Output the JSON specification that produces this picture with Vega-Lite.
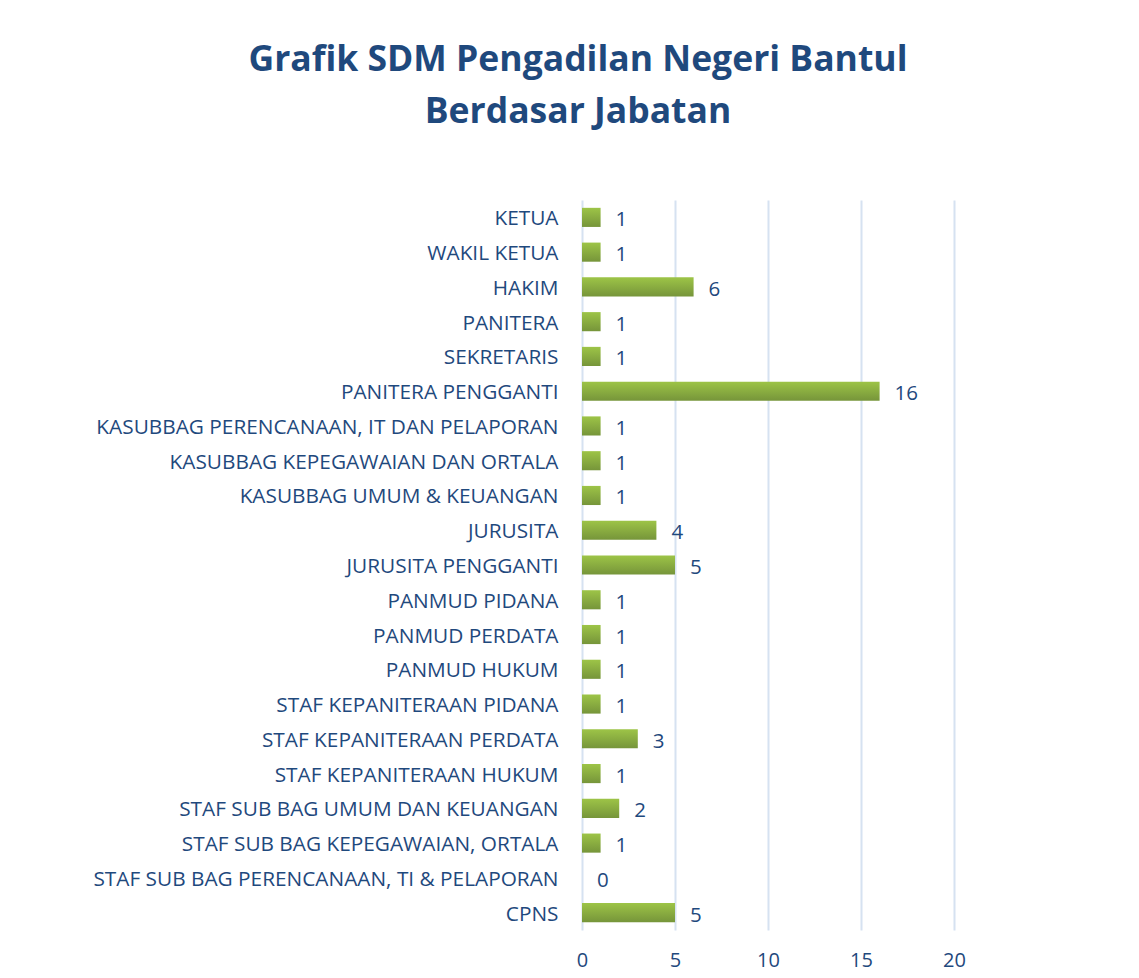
{
  "$schema": "https://vega.github.io/schema/vega-lite/v6.json",
  "autosize": {"type": "none"},
  "padding": {"left": 582, "top": 200, "right": 185, "bottom": 48},
  "width": 372,
  "height": 730,
  "background": "white",
  "title": {
    "text": ["Grafik SDM Pengadilan Negeri Bantul", "Berdasar Jabatan"],
    "anchor": "middle",
    "frame": "group",
    "dx": -190,
    "offset": 70,
    "font": "Open Sans",
    "fontWeight": "bold",
    "fontSize": 35.5,
    "lineHeight": 52,
    "color": "#1F497D"
  },
  "data": {
    "values": [
      {"jabatan": "KETUA", "jumlah": 1},
      {"jabatan": "WAKIL KETUA", "jumlah": 1},
      {"jabatan": "HAKIM", "jumlah": 6},
      {"jabatan": "PANITERA", "jumlah": 1},
      {"jabatan": "SEKRETARIS", "jumlah": 1},
      {"jabatan": "PANITERA PENGGANTI", "jumlah": 16},
      {"jabatan": "KASUBBAG PERENCANAAN, IT DAN PELAPORAN", "jumlah": 1},
      {"jabatan": "KASUBBAG KEPEGAWAIAN DAN ORTALA", "jumlah": 1},
      {"jabatan": "KASUBBAG UMUM & KEUANGAN", "jumlah": 1},
      {"jabatan": "JURUSITA", "jumlah": 4},
      {"jabatan": "JURUSITA PENGGANTI", "jumlah": 5},
      {"jabatan": "PANMUD PIDANA", "jumlah": 1},
      {"jabatan": "PANMUD PERDATA", "jumlah": 1},
      {"jabatan": "PANMUD HUKUM", "jumlah": 1},
      {"jabatan": "STAF KEPANITERAAN PIDANA", "jumlah": 1},
      {"jabatan": "STAF KEPANITERAAN PERDATA", "jumlah": 3},
      {"jabatan": "STAF KEPANITERAAN HUKUM", "jumlah": 1},
      {"jabatan": "STAF SUB BAG UMUM DAN KEUANGAN", "jumlah": 2},
      {"jabatan": "STAF SUB BAG KEPEGAWAIAN, ORTALA", "jumlah": 1},
      {"jabatan": "STAF SUB BAG PERENCANAAN, TI & PELAPORAN", "jumlah": 0},
      {"jabatan": "CPNS", "jumlah": 5}
    ]
  },
  "encoding": {
    "y": {
      "field": "jabatan",
      "type": "nominal",
      "sort": null,
      "title": null,
      "scale": {"paddingInner": 0.45, "paddingOuter": 0.225},
      "axis": {
        "domain": false,
        "ticks": false,
        "labelPadding": 24,
        "labelFont": "Open Sans",
        "labelFontSize": 20.8,
        "labelColor": "#1F497D",
        "labelLimit": 600,
        "labelBaseline": "middle",
        "labelOffset": 2
      }
    },
    "x": {
      "field": "jumlah",
      "type": "quantitative",
      "title": null,
      "scale": {"domain": [0, 20], "nice": false},
      "axis": {
        "values": [0, 5, 10, 15, 20],
        "domain": false,
        "ticks": false,
        "grid": true,
        "gridColor": "#D6E2F1",
        "gridWidth": 2,
        "labelFlush": false,
        "labelPadding": 20,
        "labelFont": "Open Sans",
        "labelFontSize": 20,
        "labelColor": "#1F497D"
      }
    }
  },
  "layer": [
    {
      "mark": {
        "type": "bar",
        "color": {
          "gradient": "linear",
          "x1": 0, "y1": 0, "x2": 0, "y2": 1,
          "stops": [
            {"offset": 0, "color": "#9DC447"},
            {"offset": 1, "color": "#76953A"}
          ]
        }
      }
    },
    {
      "mark": {
        "type": "text",
        "align": "left",
        "baseline": "middle",
        "dx": 15,
        "dy": 3,
        "font": "Open Sans",
        "fontSize": 20.5,
        "color": "#1F497D"
      },
      "encoding": {"text": {"field": "jumlah", "type": "quantitative"}}
    }
  ],
  "config": {"view": {"stroke": null}}
}
